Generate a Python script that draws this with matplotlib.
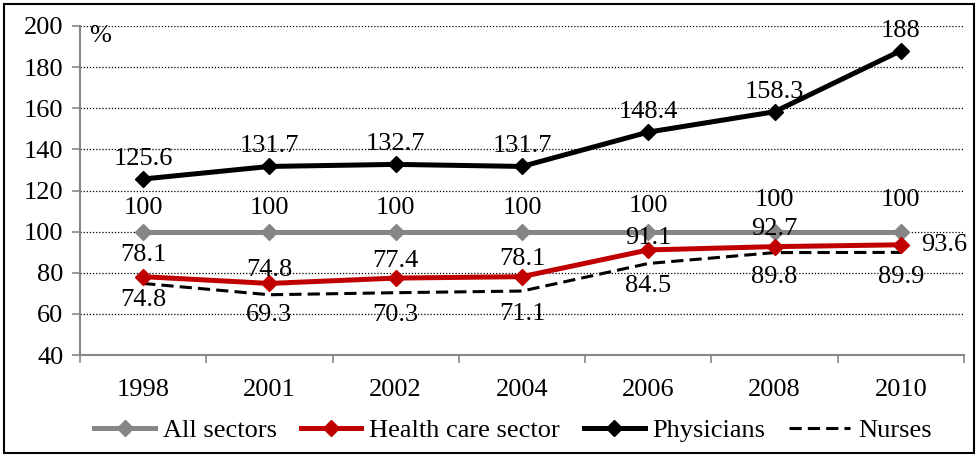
import matplotlib
matplotlib.use("Agg")
import matplotlib.pyplot as plt
from matplotlib.patches import Rectangle

years = ["1998", "2001", "2002", "2004", "2006", "2008", "2010"]
all_sectors = [100, 100, 100, 100, 100, 100, 100]
health_care = [78.1, 74.8, 77.4, 78.1, 91.1, 92.7, 93.6]
physicians = [125.6, 131.7, 132.7, 131.7, 148.4, 158.3, 188]
nurses = [74.8, 69.3, 70.3, 71.1, 84.5, 89.8, 89.9]

plt.rcParams["font.family"] = ["Liberation Serif", "DejaVu Serif"]
FS = 19

fig = plt.figure(figsize=(9.77, 4.55), dpi=100)
ax = fig.add_axes([80 / 977, 1 - 355 / 455, 884 / 977, 329 / 455])

x = list(range(len(years)))
gray = "#868686"
red = "#C00000"

ax.plot(x, all_sectors, color=gray, lw=3.6, marker="D", ms=8, label="All sectors", zorder=3)
ax.plot(x, health_care, color=red, lw=3.6, marker="D", ms=8, label="Health care sector", zorder=4)
ax.plot(x, physicians, color="black", lw=3.6, marker="D", ms=8, label="Physicians", zorder=4)
ax.plot(x, nurses, color="black", lw=2.2, ls=(0, (4, 2)), label="Nurses", zorder=3)

px = 0.72  # points per pixel


def label(vals, dy):
    for i, v in enumerate(vals):
        oy = dy[i] if isinstance(dy, list) else dy
        ax.annotate(f"{v:g}", (i, v), xytext=(0, oy * px), textcoords="offset points",
                    ha="center", va="center", fontsize=FS, zorder=5)


label(physicians, 20)
label(all_sectors, [24, 24, 24, 24, 26, 32, 32])
label(health_care[:-1], [22, 13, 17, 18, 12, 18])
ax.annotate(f"{health_care[-1]:g}", (6, health_care[-1]), xytext=(43 * px, 0), textcoords="offset points",
            ha="center", va="center", fontsize=FS)
label(nurses, [-17, -20, -22, -23, -23, -24, -25])

ax.text(-0.34, 195, "%", fontsize=FS, ha="center", va="center")

ax.set_xlim(-0.5, 6.5)
ax.set_ylim(40, 200)
ax.set_yticks(range(40, 201, 20))
ax.set_xticks(x)
ax.set_xticklabels(years)
ax.set_xticks([i - 0.5 for i in range(len(years) + 1)], minor=True)
ax.tick_params(axis="x", which="major", length=0, pad=17, labelsize=FS)
ax.tick_params(axis="x", which="minor", length=6, color=gray, width=1.2)
ax.tick_params(axis="y", length=6, color=gray, width=1.2, labelsize=FS, pad=6)
ax.yaxis.grid(True, ls=(0, (1, 1.5)), color="black", lw=0.9)
ax.set_axisbelow(True)
for s in ["top", "right"]:
    ax.spines[s].set_visible(False)
for s in ["left", "bottom"]:
    ax.spines[s].set_color(gray)
    ax.spines[s].set_linewidth(1.5)

fig.legend(loc="center", bbox_to_anchor=(0.525, 1 - 430 / 455), ncol=4, frameon=False,
           fontsize=FS, handlelength=2.3, columnspacing=0.9, handletextpad=0.3)

fig.patches.append(Rectangle((4 / 977, 2 / 455), 970 / 977, 449 / 455, transform=fig.transFigure,
                             fill=False, ec="black", lw=1.5))

fig.savefig("out.png", dpi=100)
